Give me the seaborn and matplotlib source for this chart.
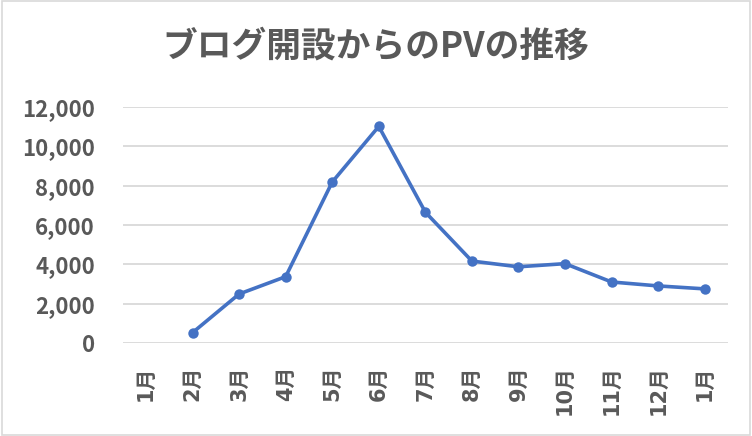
import numpy as np
import pandas as pd
import matplotlib
matplotlib.use("Agg")
import matplotlib.pyplot as plt
import seaborn as sns
from matplotlib.patches import Rectangle

months = ["1月", "2月", "3月", "4月", "5月", "6月", "7月", "8月", "9月", "10月", "11月", "12月", "1月"]
pv = [np.nan, 540, 2500, 3380, 8180, 11000, 6650, 4170, 3880, 4040, 3110, 2910, 2760]
yticks = [0, 2000, 4000, 6000, 8000, 10000, 12000]
title = "ブログ開設からのPVの推移"

sns.set_theme(style="white")
plt.rcParams["font.family"] = ["Noto Sans CJK JP", "DejaVu Sans"]

df = pd.DataFrame({"pos": np.arange(len(months)), "pv": pv})

fig = plt.figure(figsize=(7.52, 4.36), dpi=100)
ax = fig.add_axes([122.7 / 752, 1 - 343.3 / 436, (728 - 122.7) / 752, (343.3 - 106.7) / 436])

color = "#4472C4"
gray = "#595959"
sns.lineplot(data=df, x="pos", y="pv", ax=ax, color=color, linewidth=2.6,
             marker="o", markersize=7.5, markeredgewidth=0, estimator=None, sort=False)

ax.set_ylim(0, 12000)
ax.set_xlim(-0.5, len(months) - 0.5)
ax.set_yticks(yticks)
ax.set_yticklabels([f"{v:,}" for v in yticks], fontsize=16, fontweight="bold", color=gray)
ax.set_xticks(np.arange(len(months)))
ax.set_xticklabels(months, rotation=90, fontsize=15, fontweight="bold", color=gray, va="top",
                   family=["DejaVu Sans", "Noto Sans CJK JP"])
ax.tick_params(axis="both", length=0)
ax.tick_params(axis="y", pad=20)
ax.tick_params(axis="x", pad=16)
ax.grid(axis="y", color="#D9D9D9", linewidth=1.3)
ax.set_axisbelow(True)
for s in ax.spines.values():
    s.set_visible(False)
ax.set_xlabel("")
ax.set_ylabel("")

fig.text(0.5, 1 - 46 / 436, title, ha="center", va="center", fontsize=25,
         fontweight="bold", color=gray)

fig.patches.append(Rectangle((0.002, 0.003), 0.996, 0.994, transform=fig.transFigure,
                             fill=False, edgecolor="#D9D9D9", linewidth=1.2))

fig.savefig("out.png", dpi=100)
